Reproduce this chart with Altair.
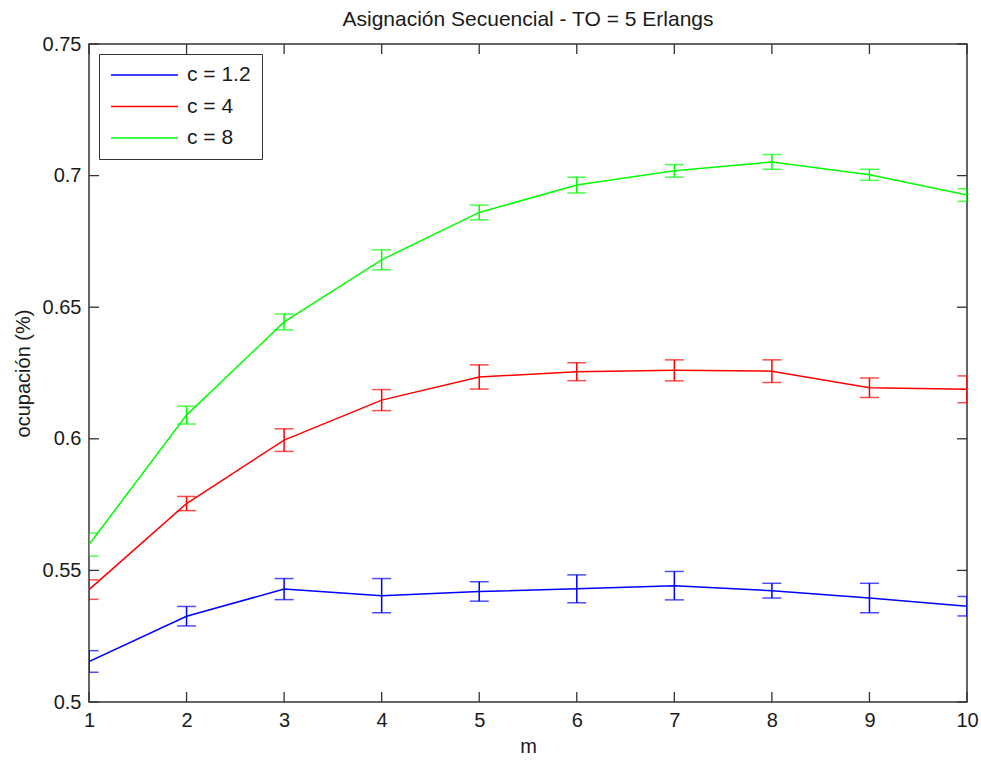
import altair as alt
import pandas as pd

# Number of channels m on the x axis
m_values = list(range(1, 11))

# Series labels and their line colours
series_names = ["c = 1.2", "c = 4", "c = 8"]
series_colors = ["#0000ff", "#ff0000", "#00ff00"]

# Mean occupancy per series
occ_c12 = [0.5154, 0.5326, 0.5429, 0.5404, 0.5420, 0.5430, 0.5442, 0.5423, 0.5395, 0.5364]
occ_c4 = [0.5427, 0.5754, 0.5995, 0.6147, 0.6235, 0.6255, 0.6260, 0.6257, 0.6194, 0.6188]
occ_c8 = [0.5598, 0.6090, 0.6444, 0.6680, 0.6860, 0.6964, 0.7018, 0.7052, 0.7003, 0.6926]

# Half-width of the confidence interval per series
err_c12 = [0.0041, 0.0037, 0.0040, 0.0065, 0.0037, 0.0053, 0.0054, 0.0028, 0.0056, 0.0037]
err_c4 = [0.0037, 0.0027, 0.0043, 0.0040, 0.0046, 0.0034, 0.0040, 0.0043, 0.0037, 0.0051]
err_c8 = [0.0044, 0.0034, 0.0030, 0.0038, 0.0028, 0.0030, 0.0024, 0.0028, 0.0021, 0.0024]

# Axis tick values
x_ticks = m_values
y_ticks = [0.5, 0.55, 0.6, 0.65, 0.7, 0.75]

rows = []
for name, vals, errs in zip(series_names, [occ_c12, occ_c4, occ_c8], [err_c12, err_c4, err_c8]):
    for m, v, e in zip(m_values, vals, errs):
        rows.append({"m": m, "serie": name, "occ": v, "lo": v - e, "hi": v + e})
df = pd.DataFrame(rows)

W, H = 878, 658
FONT = "Liberation Sans"
TEXT = "#1a1a1a"
FRAME = "#333333"
TICK_LEN = 10

x_scale = alt.Scale(domain=[1, 10], nice=False, zero=False)
y_scale = alt.Scale(domain=[0.5, 0.75], nice=False, zero=False)

x_axis = alt.Axis(values=x_ticks, title="m", labelFlush=False, labelOverlap=False,
                  labelPadding=8, titlePadding=6)
y_axis = alt.Axis(values=y_ticks, format="~g", title="ocupación (%)", labelFlush=False,
                  labelOverlap=False, labelPadding=8, titlePadding=9)


def xenc(field):
    return alt.X(f"{field}:Q", scale=x_scale, axis=x_axis)


def yenc(field):
    return alt.Y(f"{field}:Q", scale=y_scale, axis=y_axis)


color_scale = alt.Scale(domain=series_names, range=series_colors)

lines = alt.Chart(df).mark_line(strokeWidth=1.5, clip=True).encode(
    x=xenc("m"),
    y=yenc("occ"),
    color=alt.Color(
        "serie:N", scale=color_scale, sort=series_names,
        legend=alt.Legend(
            title=None, orient="none", legendX=10, legendY=10,
            symbolType="stroke", symbolSize=4489, symbolStrokeWidth=1.5,
            labelFontSize=21, labelFont=FONT, labelColor=TEXT, labelOffset=8,
            clipHeight=20, rowPadding=10.5, padding=11,
            strokeColor=FRAME, fillColor="white",
        ),
    ),
)

# Vertical confidence-interval segments
err_rules = alt.Chart(df).mark_rule(strokeWidth=1.5, clip=True).encode(
    x=xenc("m"),
    y=yenc("lo"),
    y2="hi:Q",
    color=alt.Color("serie:N", scale=color_scale, legend=None),
)

# Horizontal caps at both ends of each interval
cap_lo = alt.Chart(df).mark_tick(orient="horizontal", size=19, thickness=1.5, clip=True).encode(
    x=xenc("m"),
    y=yenc("lo"),
    color=alt.Color("serie:N", scale=color_scale, legend=None),
)
cap_hi = alt.Chart(df).mark_tick(orient="horizontal", size=19, thickness=1.5, clip=True).encode(
    x=xenc("m"),
    y=yenc("hi"),
    color=alt.Color("serie:N", scale=color_scale, legend=None),
)

# Inward-pointing ticks on all four sides of the frame
ydf = pd.DataFrame({"v": y_ticks})
xdf = pd.DataFrame({"v": x_ticks})
tick_left = alt.Chart(ydf).mark_rule(color=FRAME, strokeWidth=1.3).encode(
    y=yenc("v"), x=alt.value(0), x2=alt.value(TICK_LEN))
tick_right = alt.Chart(ydf).mark_rule(color=FRAME, strokeWidth=1.3).encode(
    y=yenc("v"), x=alt.value(W - TICK_LEN), x2=alt.value(W))
tick_bottom = alt.Chart(xdf).mark_rule(color=FRAME, strokeWidth=1.3).encode(
    x=xenc("v"), y=alt.value(H - TICK_LEN), y2=alt.value(H))
tick_top = alt.Chart(xdf).mark_rule(color=FRAME, strokeWidth=1.3).encode(
    x=xenc("v"), y=alt.value(0), y2=alt.value(TICK_LEN))

chart = alt.layer(
    tick_left, tick_right, tick_bottom, tick_top,
    lines, err_rules, cap_lo, cap_hi,
).properties(
    width=W,
    height=H,
    background="white",
    title=alt.TitleParams(
        text="Asignación Secuencial - TO = 5 Erlangs",
        fontSize=21, fontWeight="normal", font=FONT, color=TEXT,
        anchor="middle", offset=4,
    ),
    autosize=alt.AutoSizeParams(type="none"),
    padding={"left": 89, "top": 44, "right": 14, "bottom": 58},
).configure_view(
    stroke=FRAME, strokeWidth=1.5,
).configure_axis(
    domain=False, ticks=False, grid=False,
    labelFont=FONT, labelFontSize=20, labelColor=TEXT,
    titleFont=FONT, titleFontSize=20, titleFontWeight="normal", titleColor=TEXT,
)

chart.save("out.html", embed_options={"renderer": "svg", "actions": False})
